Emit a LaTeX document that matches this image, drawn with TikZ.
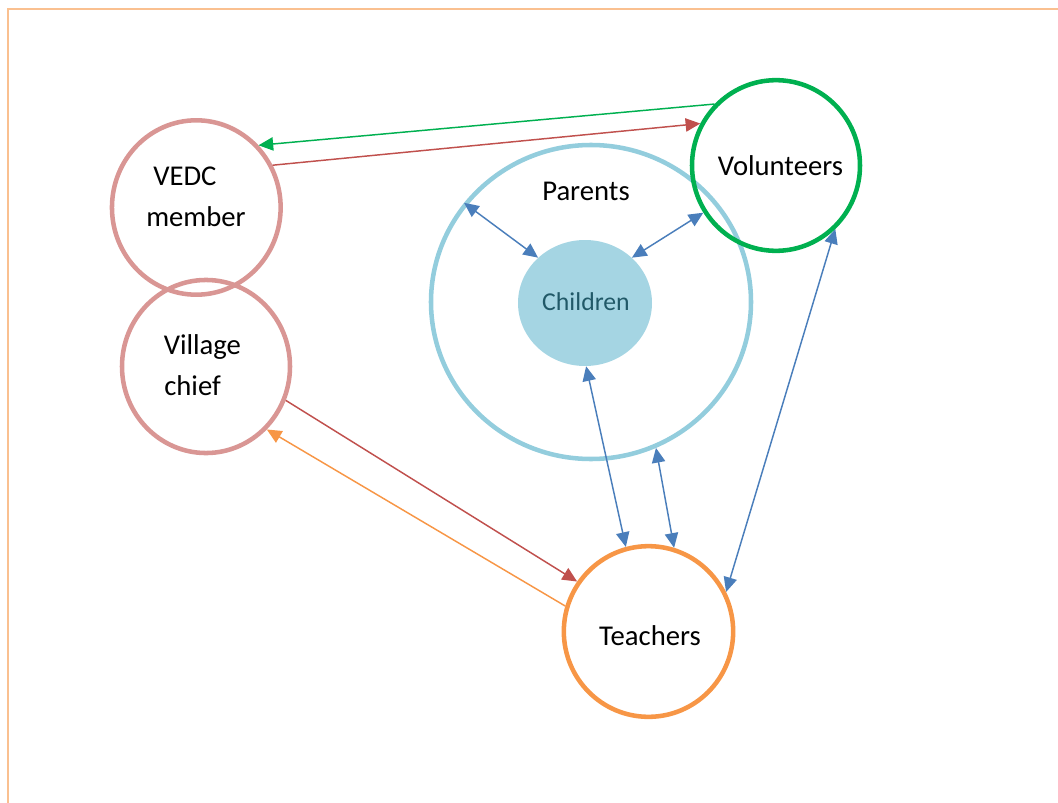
\documentclass[tikz,border=0pt]{standalone}
\usepackage{fontspec}
\setmainfont{Carlito}
\usetikzlibrary{arrows.meta,
	shapes.geometric
}
\usepackage{xcolor}
\definecolor{frame}{HTML}{FAC090}
\definecolor{elder}{HTML}{D99694}
\definecolor{volunteer}{HTML}{00B050}
\definecolor{teacher}{HTML}{F79646}
\definecolor{parent}{HTML}{93CDDD}
\definecolor{child}{HTML}{A5D5E3}
\definecolor{childtext}{HTML}{215968}
\definecolor{link}{HTML}{4A7EBB}
\definecolor{chiefline}{HTML}{C0504D}

\begin{document}
\begin{tikzpicture}[x=0.75pt,y=-0.75pt,
		ring/.style={ellipse,line width=3.4pt,inner sep=0pt},
		word/.style={font=\fontsize{21.5}{26}\selectfont,anchor=base,inner sep=0pt},
		oneway/.style={line width=1.1pt,-{Triangle[length=11pt,width=10pt]}},
		twoway/.style={line width=1.1pt,{Triangle[length=11pt,width=10pt]}-{Triangle[length=11pt,width=10pt]}}]
		\useasboundingbox (0,0) rectangle (1058,803);
		\draw[frame,line width=1.5pt] (8,803) -- (8,9) -- (1058,9);
		%
		\node[ring,draw=parent,minimum width=240pt,minimum height=235.5pt] (P) at (591,302) {};
		\node[ellipse,fill=child,inner sep=0pt,minimum width=100.5pt,minimum height=94.5pt] (C) at (585,303) {};
		\node[ring,draw=elder,minimum width=126.5pt,minimum height=130.8pt] (V) at (196.3,207.5) {};
		\node[ring,draw=elder,minimum width=126pt,minimum height=129.8pt] (K) at (206,366.5) {};
		\node[ring,draw=volunteer,minimum width=126pt,minimum height=128pt] (Vo) at (776,165.5) {};
		\node[ring,draw=teacher,minimum width=127pt,minimum height=128pt] (T) at (648.5,631.5) {};
		%
		\node[word,anchor=base west] (V1) at (153,185) {VEDC};
		\node[word,anchor=base west] (V2) at (146,226) {member};
		\node[word,anchor=base west] (K1) at (163.5,354) {Village};
		\node[word,anchor=base west] (K2) at (164,395) {chief};
		\node[word] (Pt) at (586,200) {Parents};
		\node[word,font=\fontsize{19.3}{23}\selectfont,text=childtext] (Ct) at (586,310) {Children};
		\node[word] (Vot) at (780.5,175) {Volunteers};
		\node[word] (Tt) at (650,645) {Teachers};
		%
		\draw[volunteer,oneway] (Vo.135.7) -- (V.45.9);
		\draw[chiefline,oneway] (V.29.3) -- (Vo.151);
		\draw[link,twoway] (P.142.4) -- (C.136.2);
		\draw[link,twoway] (Vo.213.7) -- (C.44.2);
		\draw[link,twoway] (C.-89) -- (T.105);
		\draw[link,twoway] (P.-66.1) -- (T.73.7);
		\draw[link,twoway] (Vo.-47.5) -- (T.27);
		\draw[chiefline,oneway] (K.-23.8) -- (T.145);
		\draw[teacher,oneway] (T.163.6) -- (K.-46.6);
	\end{tikzpicture}
\end{document}
